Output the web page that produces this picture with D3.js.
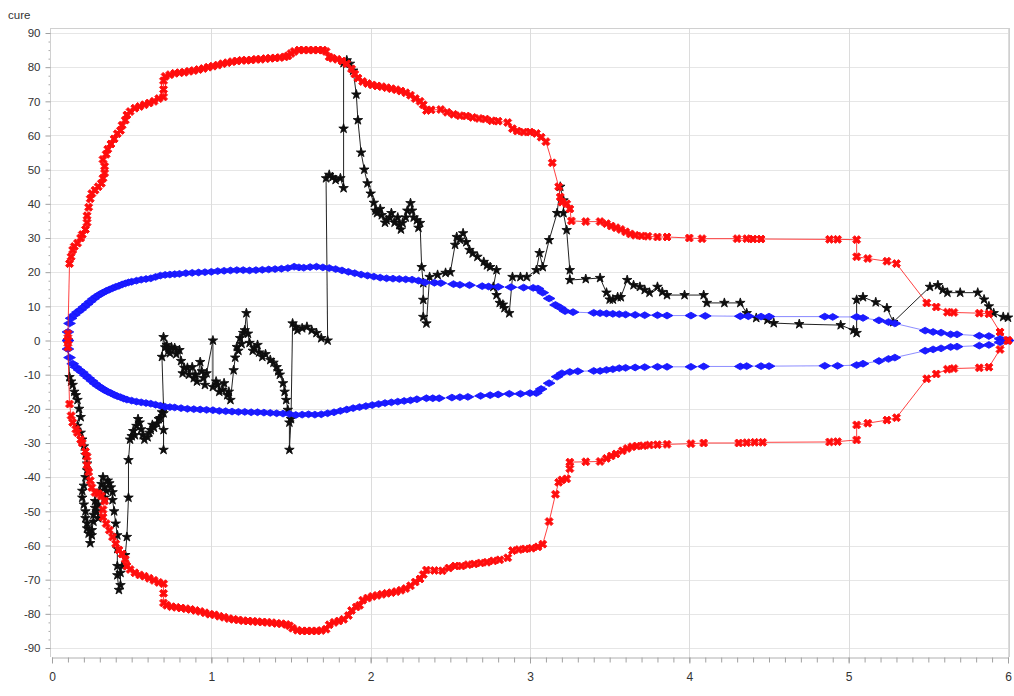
<!DOCTYPE html>
<html>
<head>
<meta charset="utf-8">
<script src="https://cdn.jsdelivr.net/npm/d3@7"></script>
<style>
  html, body { margin: 0; padding: 0; background: #fff; }
  svg { display: block; }
  text { font-family: "Liberation Sans", Arial, sans-serif; }
</style>
</head>
<body>
<svg id="chart" width="1014" height="696"></svg>
<script>
const yAxisTitle = "cure";
const xTicks = [0, 1, 2, 3, 4, 5, 6];
const yTicks = [-90, -80, -70, -60, -50, -40, -30, -20, -10, 0, 10, 20, 30, 40, 50, 60, 70, 80, 90];

const redUpper = [[0.10,0],[0.10,2],[0.11,22.5],[0.12,24.5],[0.13,26.5],[0.14,27.5],[0.16,28.5],[0.18,30],[0.19,31],[0.21,32.5],[0.22,34.5],[0.22,36.5],[0.23,39],[0.24,41.5],[0.25,43],[0.27,44],[0.29,45],[0.31,46],[0.32,47.5],[0.33,49],[0.33,51],[0.32,53],[0.34,54.5],[0.35,56],[0.37,57.5],[0.39,59],[0.41,60.5],[0.43,61.5],[0.44,63],[0.46,64.5],[0.47,66],[0.49,67],[0.52,68],[0.55,68.5],[0.58,69],[0.61,69.5],[0.64,70],[0.67,70.8],[0.70,71.3],[0.70,73.5],[0.70,76],[0.71,77.3],[0.74,77.8],[0.77,78.2],[0.80,78.4],[0.83,78.5],[0.86,78.8],[0.89,79],[0.92,79.3],[0.95,79.6],[0.98,80],[1.01,80.3],[1.04,80.6],[1.07,81],[1.10,81.3],[1.13,81.6],[1.16,81.8],[1.19,82],[1.22,82],[1.25,82.1],[1.28,82.3],[1.31,82.3],[1.34,82.5],[1.37,82.6],[1.40,82.7],[1.43,82.8],[1.46,83],[1.48,83.3],[1.50,84],[1.52,84.6],[1.55,85],[1.58,85],[1.61,85],[1.64,85],[1.67,85],[1.70,85],[1.72,84.6],[1.74,83],[1.76,82.6],[1.79,82.3],[1.82,81.8],[1.85,81],[1.88,79.5],[1.90,78],[1.92,76.8],[1.95,75.8],[1.98,75.2],[2.01,74.8],[2.04,74.5],[2.07,74.3],[2.10,74],[2.13,73.7],[2.16,73.4],[2.19,73],[2.22,72.5],[2.25,71.8],[2.28,70.8],[2.31,70],[2.33,69],[2.35,67.3],[2.38,67.5],[2.44,67.6],[2.48,66.8],[2.52,66.2],[2.56,65.8],[2.60,65.7],[2.64,65.3],[2.68,65],[2.72,64.8],[2.76,64.3],[2.80,64.2],[2.86,63.8],[2.89,62],[2.92,61.3],[2.96,61],[3.00,61],[3.04,60.6],[3.07,59.5],[3.10,58.2],[3.14,52],[3.18,45],[3.19,42],[3.20,40.5],[3.23,40],[3.25,38.5],[3.26,35],[3.35,34.8],[3.44,34.8],[3.48,34.2],[3.51,33.5],[3.54,33],[3.57,32.5],[3.60,31.8],[3.63,31.2],[3.66,30.8],[3.70,30.6],[3.74,30.5],[3.80,30.3],[3.86,30.3],[4.00,30],[4.08,29.8],[4.30,29.8],[4.36,29.8],[4.40,29.7],[4.45,29.7],[4.88,29.6],[4.93,29.6],[5.05,29.5],[5.05,24.5],[5.12,24],[5.24,23.2],[5.30,22.5],[5.49,11],[5.55,9.8],[5.62,8.3],[5.66,8.2],[5.82,8],[5.88,7.8],[5.95,2.5],[6.0,0]];

const redLower = [[0.10,0],[0.10,-2],[0.11,-18.6],[0.12,-22],[0.13,-24],[0.15,-26],[0.16,-27],[0.18,-29],[0.19,-30],[0.21,-32.5],[0.22,-34],[0.22,-36.5],[0.23,-38.5],[0.24,-41],[0.25,-43],[0.27,-44.5],[0.29,-44.8],[0.31,-45.5],[0.33,-47],[0.32,-49.5],[0.32,-51.7],[0.34,-53.6],[0.36,-55.5],[0.38,-57.5],[0.40,-59.5],[0.42,-61.3],[0.44,-62.5],[0.46,-64],[0.47,-66],[0.49,-67],[0.52,-68],[0.55,-68.6],[0.58,-69],[0.61,-69.6],[0.64,-70.2],[0.67,-70.8],[0.70,-71.2],[0.70,-74],[0.70,-76.8],[0.72,-77.5],[0.75,-77.9],[0.78,-78.1],[0.81,-78.3],[0.84,-78.5],[0.87,-78.7],[0.90,-79],[0.93,-79.3],[0.96,-79.7],[0.99,-80.1],[1.02,-80.3],[1.05,-80.7],[1.08,-81],[1.11,-81.4],[1.14,-81.6],[1.17,-81.8],[1.20,-82],[1.23,-82.1],[1.26,-82.2],[1.29,-82.3],[1.32,-82.4],[1.35,-82.5],[1.38,-82.6],[1.41,-82.8],[1.44,-82.9],[1.47,-83.1],[1.49,-83.5],[1.51,-84.2],[1.54,-84.8],[1.57,-85],[1.60,-85],[1.63,-85],[1.66,-85],[1.69,-84.9],[1.72,-84.5],[1.74,-83.2],[1.77,-82.5],[1.80,-82.1],[1.83,-81.6],[1.86,-80.5],[1.88,-79],[1.91,-78],[1.93,-77.5],[1.95,-76],[1.98,-75.4],[2.01,-74.9],[2.04,-74.6],[2.07,-74.3],[2.10,-74],[2.13,-73.8],[2.16,-73.5],[2.19,-73.1],[2.22,-72.6],[2.25,-71.8],[2.28,-70.7],[2.31,-69.8],[2.33,-68.5],[2.35,-67.2],[2.40,-67.3],[2.45,-67.4],[2.49,-66.6],[2.53,-66],[2.57,-66],[2.61,-65.6],[2.65,-65.4],[2.69,-65.1],[2.73,-64.9],[2.77,-64.5],[2.81,-64.2],[2.86,-63.6],[2.89,-61.5],[2.93,-61.2],[2.97,-61],[3.01,-60.8],[3.05,-60.4],[3.08,-59.6],[3.12,-53],[3.16,-45],[3.18,-41.5],[3.20,-40.8],[3.23,-40.5],[3.25,-37.5],[3.25,-35.6],[3.35,-35.5],[3.44,-35.4],[3.48,-34.5],[3.51,-33.8],[3.54,-33.2],[3.58,-32.3],[3.61,-31.6],[3.64,-31.1],[3.67,-30.9],[3.71,-30.8],[3.75,-30.6],[3.80,-30.5],[3.86,-30.4],[4.01,-30.2],[4.09,-30],[4.31,-30],[4.36,-29.9],[4.41,-29.8],[4.46,-29.8],[4.88,-29.7],[4.93,-29.6],[5.05,-29.1],[5.05,-24.7],[5.12,-24.2],[5.24,-23.3],[5.30,-22.6],[5.49,-11.2],[5.55,-9.8],[5.62,-8.4],[5.66,-8.2],[5.82,-8],[5.88,-7.8],[5.95,-2.6],[6.0,0]];

const blueUpper = [[0.10,0],[0.10,2.5],[0.11,5],[0.12,6.5],[0.14,7.5],[0.16,8.3],[0.18,9],[0.20,9.8],[0.22,10.6],[0.24,11.4],[0.26,12.2],[0.28,12.9],[0.30,13.5],[0.32,14],[0.34,14.5],[0.36,14.9],[0.38,15.3],[0.40,15.7],[0.42,16],[0.44,16.4],[0.46,16.7],[0.48,17],[0.50,17.2],[0.53,17.5],[0.56,17.8],[0.59,18],[0.62,18.2],[0.65,18.6],[0.68,19],[0.71,19.2],[0.74,19.3],[0.77,19.4],[0.80,19.5],[0.84,19.7],[0.88,19.8],[0.92,19.9],[0.96,20],[1.00,20.1],[1.04,20.3],[1.08,20.4],[1.12,20.5],[1.16,20.6],[1.20,20.6],[1.24,20.5],[1.28,20.6],[1.32,20.7],[1.36,20.8],[1.40,20.9],[1.44,21],[1.48,21.2],[1.52,21.6],[1.55,21.4],[1.58,21.3],[1.62,21.5],[1.66,21.6],[1.70,21.4],[1.74,21.2],[1.78,20.9],[1.82,20.5],[1.86,20.1],[1.90,19.7],[1.94,19.3],[1.98,19],[2.02,18.7],[2.06,18.4],[2.10,18.2],[2.14,18.1],[2.18,18],[2.22,17.9],[2.26,17.8],[2.30,17.5],[2.34,17],[2.40,16.9],[2.44,16.8],[2.52,16.5],[2.56,16.3],[2.62,16.2],[2.70,15.9],[2.74,15.8],[2.80,15.7],[2.88,15.6],[2.96,15.5],[3.02,15.4],[3.05,15.2],[3.08,14],[3.12,12.3],[3.16,10.4],[3.19,9.6],[3.22,8.6],[3.27,8.3],[3.40,8.1],[3.44,8.0],[3.48,7.9],[3.52,7.8],[3.56,7.7],[3.60,7.6],[3.66,7.5],[3.72,7.4],[3.80,7.4],[3.86,7.3],[4.01,7.3],[4.10,7.2],[4.32,7.1],[4.37,7.1],[4.45,7.0],[4.50,7.0],[4.85,7.0],[4.90,6.9],[5.05,6.9],[5.09,6.6],[5.19,5.9],[5.25,5.4],[5.29,5],[5.48,2.9],[5.53,2.5],[5.58,2.3],[5.64,1.8],[5.68,1.8],[5.82,1.4],[5.88,1.3],[5.95,0.5],[6.0,0]];

const blueLower = [[0.10,0],[0.10,-2.5],[0.11,-5],[0.13,-6.8],[0.15,-7.8],[0.17,-8.6],[0.19,-9.3],[0.21,-10.2],[0.23,-11],[0.25,-11.8],[0.27,-12.6],[0.29,-13.3],[0.31,-13.9],[0.33,-14.5],[0.35,-15],[0.37,-15.4],[0.39,-15.9],[0.41,-16.3],[0.43,-16.6],[0.45,-17],[0.47,-17.3],[0.50,-17.6],[0.53,-17.9],[0.56,-18.1],[0.59,-18.3],[0.62,-18.5],[0.65,-18.8],[0.68,-19.1],[0.71,-19.4],[0.74,-19.5],[0.77,-19.6],[0.81,-19.8],[0.85,-20],[0.89,-20.1],[0.93,-20.2],[0.97,-20.3],[1.01,-20.4],[1.05,-20.6],[1.09,-20.7],[1.13,-20.8],[1.17,-20.9],[1.21,-20.9],[1.25,-21],[1.29,-21],[1.33,-21.1],[1.37,-21.2],[1.41,-21.3],[1.45,-21.4],[1.49,-21.5],[1.53,-21.8],[1.57,-21.7],[1.61,-21.6],[1.65,-21.7],[1.69,-21.6],[1.73,-21.3],[1.77,-21],[1.81,-20.6],[1.85,-20.2],[1.89,-19.8],[1.93,-19.5],[1.97,-19.2],[2.01,-18.9],[2.05,-18.6],[2.09,-18.3],[2.13,-18.1],[2.17,-17.9],[2.21,-17.7],[2.25,-17.5],[2.29,-17.2],[2.35,-16.9],[2.39,-16.9],[2.43,-16.9],[2.51,-16.7],[2.56,-16.6],[2.61,-16.5],[2.69,-16.2],[2.75,-16],[2.80,-15.8],[2.87,-15.6],[2.94,-15.6],[3.00,-15.4],[3.04,-15.4],[3.07,-14.2],[3.12,-12.5],[3.17,-10.6],[3.20,-9.6],[3.25,-9.2],[3.30,-9],[3.40,-8.9],[3.44,-8.9],[3.48,-8.6],[3.52,-8.4],[3.56,-8.1],[3.60,-8],[3.66,-7.9],[3.72,-7.8],[3.80,-7.7],[3.86,-7.7],[4.01,-7.7],[4.09,-7.6],[4.32,-7.6],[4.36,-7.5],[4.45,-7.5],[4.50,-7.5],[4.85,-7.4],[4.93,-7.4],[5.05,-7.2],[5.09,-6.8],[5.19,-6],[5.25,-5.4],[5.29,-5],[5.48,-3],[5.53,-2.6],[5.58,-2.3],[5.64,-1.9],[5.68,-1.8],[5.82,-1.5],[5.88,-1.3],[5.95,-0.5],[6.0,0]];

const blackPath = [[0.10,0],[0.11,-10.7],[0.12,-12],[0.13,-13],[0.14,-15],[0.15,-16],[0.16,-17.4],[0.17,-20],[0.18,-22.4],[0.16,-25],[0.18,-27],[0.19,-29],[0.20,-31],[0.21,-33.5],[0.22,-36],[0.22,-38],[0.21,-40],[0.20,-42.5],[0.19,-44],[0.19,-46],[0.20,-48],[0.21,-50],[0.21,-52],[0.22,-53.5],[0.22,-55],[0.23,-56.5],[0.24,-59.3],[0.25,-57],[0.25,-55.5],[0.26,-53],[0.26,-51],[0.27,-49],[0.27,-47],[0.28,-50],[0.29,-52],[0.29,-48],[0.30,-44],[0.31,-42],[0.32,-40],[0.33,-43],[0.33,-46],[0.34,-44],[0.35,-41],[0.36,-41.8],[0.37,-43],[0.38,-44.4],[0.38,-46.7],[0.39,-50],[0.40,-53.6],[0.41,-57],[0.41,-61],[0.41,-66],[0.41,-68.7],[0.42,-73],[0.43,-71.6],[0.43,-68],[0.44,-66],[0.46,-62.8],[0.47,-57.5],[0.48,-46],[0.48,-35],[0.49,-29],[0.50,-28],[0.51,-26.5],[0.52,-27.7],[0.53,-25],[0.54,-23],[0.55,-24],[0.56,-26],[0.57,-27.7],[0.58,-29],[0.60,-28.3],[0.61,-27],[0.62,-26.2],[0.63,-24.7],[0.64,-25.5],[0.66,-24.3],[0.67,-23],[0.68,-22.7],[0.69,-21],[0.70,-21.3],[0.70,-26.2],[0.70,-32],[0.70,-19.5],[0.69,-4.8],[0.70,1],[0.71,-2],[0.72,-1.3],[0.73,-3],[0.74,-3.7],[0.75,-2],[0.77,-2.2],[0.78,-4],[0.80,-2.8],[0.81,-6],[0.82,-9.6],[0.83,-8],[0.85,-8],[0.86,-10],[0.88,-7.8],[0.89,-11],[0.90,-10],[0.91,-12],[0.93,-6.3],[0.94,-9],[0.95,-11],[0.96,-13],[0.97,-9.6],[1.01,0],[1.01,-13.6],[1.03,-12],[1.04,-13],[1.05,-15],[1.07,-14.5],[1.08,-12.5],[1.10,-16],[1.11,-15],[1.12,-17.4],[1.14,-8.7],[1.15,-5],[1.16,-1.9],[1.17,-3],[1.18,0.7],[1.19,-1],[1.20,2.2],[1.21,3],[1.22,8],[1.23,2],[1.24,-0.7],[1.26,-3],[1.27,-2.2],[1.29,-1.3],[1.30,-3.5],[1.32,-4.8],[1.34,-4],[1.37,-5.7],[1.39,-6.5],[1.41,-7.8],[1.42,-9],[1.43,-10],[1.45,-12.5],[1.46,-15],[1.47,-17.4],[1.48,-20.3],[1.49,-24],[1.49,-32],[1.50,-23],[1.51,5],[1.53,4],[1.54,3],[1.57,3.6],[1.60,4],[1.63,3],[1.66,2.2],[1.69,0.7],[1.73,0],[1.72,47.5],[1.74,48.5],[1.76,47.8],[1.78,47],[1.81,47.5],[1.83,44.6],[1.83,62],[1.83,81.2],[1.85,82],[1.87,81],[1.89,79],[1.91,72],[1.92,64.5],[1.94,55],[1.96,50],[1.98,46],[2.00,43],[2.02,40.3],[2.03,38],[2.04,37.3],[2.06,38.5],[2.07,36.7],[2.09,34.5],[2.10,35.2],[2.12,36],[2.13,37.3],[2.15,34.5],[2.17,36],[2.18,33.8],[2.19,32.5],[2.20,34.4],[2.22,36],[2.23,38],[2.25,40.2],[2.26,38],[2.27,36],[2.29,35.2],[2.30,33],[2.31,34.4],[2.32,21.5],[2.33,16.8],[2.33,11.9],[2.33,6.9],[2.35,5],[2.37,18.6],[2.42,19.2],[2.47,19.8],[2.50,20],[2.53,28],[2.54,30.3],[2.56,29.5],[2.58,31.4],[2.60,28.8],[2.62,26.5],[2.64,25.5],[2.67,24.5],[2.71,23],[2.73,22],[2.75,21.5],[2.79,20.6],[2.77,15.7],[2.79,13.3],[2.81,11],[2.83,10.5],[2.84,9.5],[2.87,8],[2.89,18.6],[2.94,18.6],[2.98,18.6],[3.04,20.6],[3.06,25.6],[3.08,21.5],[3.12,29.4],[3.17,37.3],[3.19,45],[3.21,41],[3.21,37.3],[3.23,32.3],[3.25,20.6],[3.25,17.7],[3.35,18],[3.44,18.3],[3.48,14],[3.50,12],[3.52,12],[3.55,12.7],[3.57,12.7],[3.61,17.7],[3.65,16.2],[3.69,15.7],[3.72,14.8],[3.75,14],[3.80,15.7],[3.83,14.2],[3.86,13.3],[3.97,13.3],[4.09,13.3],[4.11,11],[4.22,11],[4.32,11],[4.36,8],[4.42,6.6],[4.49,6],[4.53,5.1],[4.69,4.8],[4.95,4.5],[5.03,3],[5.05,2.2],[5.05,11.9],[5.09,12.7],[5.17,11.2],[5.24,9.5],[5.28,5.4],[5.51,15.7],[5.56,16.2],[5.59,14.8],[5.62,14],[5.70,14],[5.81,14],[5.85,12],[5.88,10],[5.91,8],[5.97,6.9],[6.0,6.7]];

const svg = d3.select("#chart");
const plotLeft = 50, plotRight = 1009, plotTop = 28, plotBottom = 657;
const x = d3.scaleLinear().domain([0, 6]).range([52, 1008]);
const y = d3.scaleLinear().domain([-90, 90]).range([648, 33]);

const defs = svg.append("defs");
defs.append("filter").attr("id", "soft").attr("x", "-5%").attr("y", "-5%").attr("width", "110%").attr("height", "110%")
  .append("feGaussianBlur").attr("stdDeviation", 0.55);

svg.append("rect").attr("x", 0).attr("y", 0).attr("width", 1014).attr("height", 696).attr("fill", "#fff");

// grid
const grid = svg.append("g");
grid.selectAll("line.h").data(yTicks).join("line")
  .attr("x1", plotLeft).attr("x2", plotRight)
  .attr("y1", d => Math.round(y(d)) + 0.5).attr("y2", d => Math.round(y(d)) + 0.5)
  .attr("stroke", "#e6e6e6").attr("stroke-width", 1);
grid.selectAll("line.v").data(xTicks.filter(d => d > 0)).join("line")
  .attr("x1", d => Math.round(x(d)) + 0.5).attr("x2", d => Math.round(x(d)) + 0.5)
  .attr("y1", plotTop).attr("y2", plotBottom)
  .attr("stroke", "#dcdcdc").attr("stroke-width", 1);
svg.append("line").attr("x1", plotLeft).attr("x2", plotRight).attr("y1", plotTop + 0.5).attr("y2", plotTop + 0.5).attr("stroke", "#d0d0d0");
svg.append("line").attr("x1", plotRight + 0.5).attr("x2", plotRight + 0.5).attr("y1", plotTop).attr("y2", plotBottom).attr("stroke", "#d0d0d0");

// axes
const xAxisG = svg.append("g").attr("transform", `translate(0,${plotBottom + 0.5})`);
xAxisG.call(d3.axisBottom(x).tickValues(d3.range(0, 61).map(i => i / 10)).tickSize(5).tickFormat(""));
xAxisG.select(".domain").attr("stroke", "#b0b0b0");
xAxisG.selectAll(".tick line").attr("stroke", "#a0a0a0");
const xMajor = svg.append("g").attr("transform", `translate(0,${plotBottom + 0.5})`)
  .call(d3.axisBottom(x).tickValues(xTicks).tickSize(6).tickPadding(9).tickFormat(d3.format("d")));
xMajor.select(".domain").remove();
xMajor.selectAll(".tick line").attr("stroke", "#a0a0a0");
xMajor.selectAll("text").attr("font-size", 12).attr("fill", "#333");

const yMinorVals = d3.range(-36, 37).map(i => i * 2.5).filter(v => v % 10 !== 0);
const yMinor = svg.append("g").attr("transform", `translate(${plotLeft + 0.5},0)`)
  .call(d3.axisLeft(y).tickValues(yMinorVals).tickSize(2).tickFormat(""));
yMinor.select(".domain").remove();
yMinor.selectAll(".tick line").attr("stroke", "#aaa");
svg.append("line").attr("x1", plotLeft + 0.5).attr("x2", plotLeft + 0.5).attr("y1", plotTop).attr("y2", plotBottom)
  .attr("stroke", "#d0d0d0");
const yAxisG = svg.append("g").attr("transform", `translate(${plotLeft + 0.5},0)`)
  .call(d3.axisLeft(y).tickValues(yTicks).tickSize(5).tickPadding(5).tickFormat(d => String(d)));
yAxisG.select(".domain").remove();
yAxisG.selectAll(".tick line").attr("stroke", "#a0a0a0");
yAxisG.selectAll("text").attr("font-size", 11.5).attr("fill", "#333");

svg.append("text").attr("x", 8).attr("y", 19).attr("font-size", 11.5).attr("fill", "#333").text(yAxisTitle);

// series
const line = d3.line().x(d => x(d[0])).y(d => y(d[1]));
const plot = svg.append("g").attr("filter", "url(#soft)");

function drawSeries(data, color, lineColor, lineOpacity, symbolType, size, rotate) {
  plot.append("path").datum(data).attr("d", line)
    .attr("fill", "none").attr("stroke", lineColor).attr("stroke-width", 1).attr("stroke-opacity", lineOpacity);
  const sym = d3.symbol().type(symbolType).size(size);
  plot.append("g").selectAll("path").data(data).join("path")
    .attr("d", sym)
    .attr("transform", d => `translate(${x(d[0])},${y(d[1])}) rotate(${rotate})`)
    .attr("fill", color).attr("stroke", color).attr("stroke-width", 0.9);
}

drawSeries(blackPath, "#111", "#222", 1, d3.symbolStar, 28, 0);
drawSeries(blueUpper, "#1a1aff", "#3030ff", 0.55, d3.symbolDiamond, 40, 90);
drawSeries(blueLower, "#1a1aff", "#3030ff", 0.55, d3.symbolDiamond, 40, 90);
drawSeries(redUpper, "#ff1010", "#ff2020", 0.85, d3.symbolCross, 40, 45);
drawSeries(redLower, "#ff1010", "#ff2020", 0.85, d3.symbolCross, 40, 45);
</script>
</body>
</html>
